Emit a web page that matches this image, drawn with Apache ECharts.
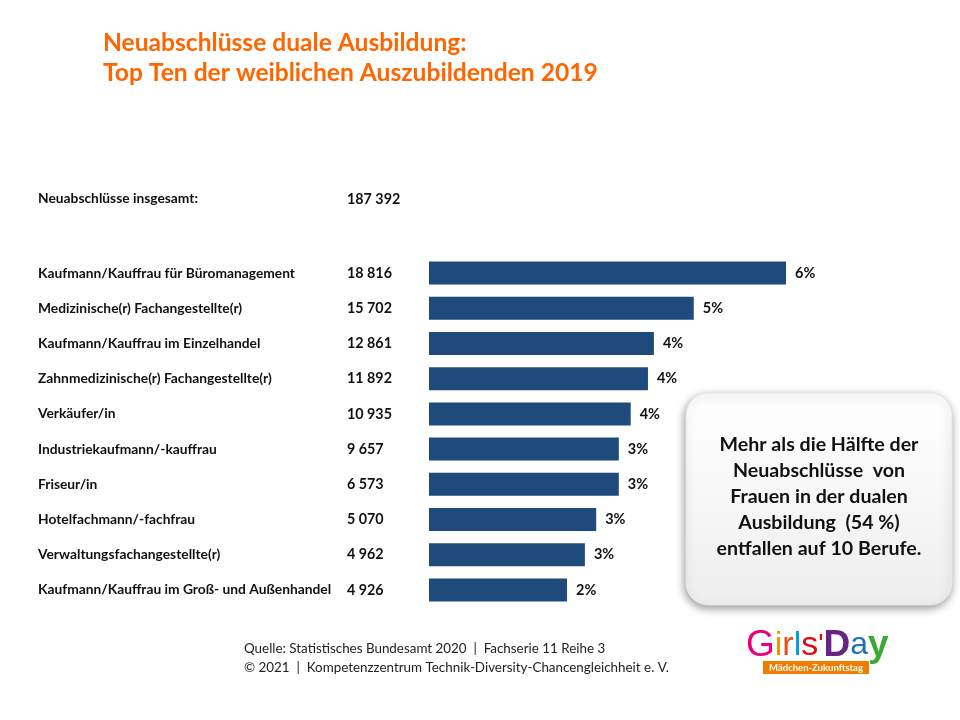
<!DOCTYPE html>
<html><head><meta charset="utf-8">
<script src="https://cdn.jsdelivr.net/npm/echarts@6/dist/echarts.min.js"></script>
<style>html,body{margin:0;padding:0;background:#fff}#c{width:960px;height:720px}</style>
</head><body><div id="c"></div>
<script>
const categories = [
  'Kaufmann/Kauffrau für Büromanagement',
  'Medizinische(r) Fachangestellte(r)',
  'Kaufmann/Kauffrau im Einzelhandel',
  'Zahnmedizinische(r) Fachangestellte(r)',
  'Verkäufer/in',
  'Industriekaufmann/-kauffrau',
  'Friseur/in',
  'Hotelfachmann/-fachfrau',
  'Verwaltungsfachangestellte(r)',
  'Kaufmann/Kauffrau im Groß- und Außenhandel'
];
const counts = ['18 816','15 702','12 861','11 892','10 935','9 657','6 573','5 070','4 962','4 926'];
const barValues = [6.0, 4.45, 3.78, 3.68, 3.39, 3.19, 3.19, 2.81, 2.62, 2.32];
const pctLabels = ['6%','5%','4%','4%','4%','3%','3%','3%','3%','2%'];
const totalLabel = 'Neuabschlüsse insgesamt:';
const totalValue = '187 392';

const FONT = 'Lato';
const chart = echarts.init(document.getElementById('c'), null, {renderer:'canvas'});
chart.setOption({
  backgroundColor:'#ffffff',
  animation:false,
  grid:{left:429, top:255.5, width:357, height:352},
  xAxis:{type:'value', min:0, max:6, show:false},
  yAxis:{type:'category', inverse:true, data:categories,
    axisLine:{show:false}, axisTick:{show:false}, splitLine:{show:false},
    axisLabel:{align:'left', margin:391,
      formatter:(v, i)=>'{a|'+v+'}{b|'+counts[i]+'}',
      rich:{
        a:{width:309, fontFamily:FONT, fontWeight:'bold', fontSize:13.8, color:'#111'},
        b:{fontFamily:FONT, fontWeight:'bold', fontSize:14.3, color:'#111'}
      }}
  },
  series:[{type:'bar', data:barValues, barWidth:23,
    itemStyle:{color:'#1F4A7C'},
    label:{show:true, position:'right', distance:9,
      formatter:p=>pctLabels[p.dataIndex],
      fontFamily:FONT, fontWeight:'bold', fontSize:14.5, color:'#111'}
  }],
  graphic:[
    {type:'text', left:103, top:28, style:{text:'Neuabschlüsse duale Ausbildung:\nTop Ten der weiblichen Auszubildenden 2019',
      fontFamily:FONT, fontWeight:'bold', fontSize:24.6, lineHeight:30, fill:'#FF6600'}},
    {type:'text', left:38, top:192, style:{text:totalLabel, fontFamily:FONT, fontWeight:'bold', fontSize:13.8, fill:'#111'}},
    {type:'text', left:347, top:192, style:{text:totalValue, fontFamily:FONT, fontWeight:'bold', fontSize:14.3, fill:'#111'}},
    {type:'rect', shape:{x:686, y:393, width:266, height:212, r:22},
      style:{fill:new echarts.graphic.LinearGradient(0,0,0,1,[{offset:0,color:'#ffffff'},{offset:1,color:'#eeeeee'}]),
        shadowBlur:9, shadowColor:'rgba(0,0,0,0.4)', shadowOffsetX:-1, shadowOffsetY:3, stroke:'#e6e6e6', lineWidth:1}},
    {type:'text', x:819, y:497, style:{text:'Mehr als die Hälfte der\nNeuabschlüsse  von\nFrauen in der dualen\nAusbildung  (54 %)\nentfallen auf 10 Berufe.',
      align:'center', verticalAlign:'middle', fontFamily:FONT, fontWeight:'bold', fontSize:19.6, lineHeight:26, fill:'#111'}},
    {type:'text', left:244, top:639, style:{text:'Quelle: Statistisches Bundesamt 2020  |  Fachserie 11 Reihe 3\n© 2021  |  Kompetenzzentrum Technik-Diversity-Chancengleichheit e. V.',
      fontFamily:FONT, fontSize:13.4, lineHeight:19, fill:'#222'}},
    {type:'text', left:746, top:627, style:{
      text:'{g|G}{i|i}{r|r}{l|l}{s|s}{q|\'}{d|D}{a|a}{y|y}',
      rich:{
        g:{fontFamily:'Liberation Sans', fontSize:37, fill:'#E6007E'},
        i:{fontFamily:'Liberation Sans', fontSize:34, fill:'#F39200'},
        r:{fontFamily:'Liberation Sans', fontSize:34, fill:'#E84E1B'},
        l:{fontFamily:'Liberation Sans', fontSize:34, fill:'#009EE0'},
        s:{fontFamily:'Liberation Sans', fontSize:34, fill:'#E30613'},
        q:{fontFamily:'Liberation Sans', fontSize:28, fill:'#E30613'},
        d:{fontFamily:'Liberation Sans', fontSize:37, fill:'#662483', fontWeight:'bold'},
        a:{fontFamily:'Liberation Sans', fontSize:32, fill:'#1D71B8'},
        y:{fontFamily:'Liberation Sans', fontSize:37, fill:'#3AAA35', fontWeight:'bold'}
      }}},
    {type:'rect', shape:{x:763, y:661, width:106, height:13}, style:{fill:'#F07D00'}},
    {type:'text', x:816, y:668, style:{text:'Mädchen-Zukunftstag', align:'center', verticalAlign:'middle',
      fontFamily:FONT, fontWeight:'bold', fontSize:9.5, fill:'#fff'}}
  ]
});
</script></body></html>
